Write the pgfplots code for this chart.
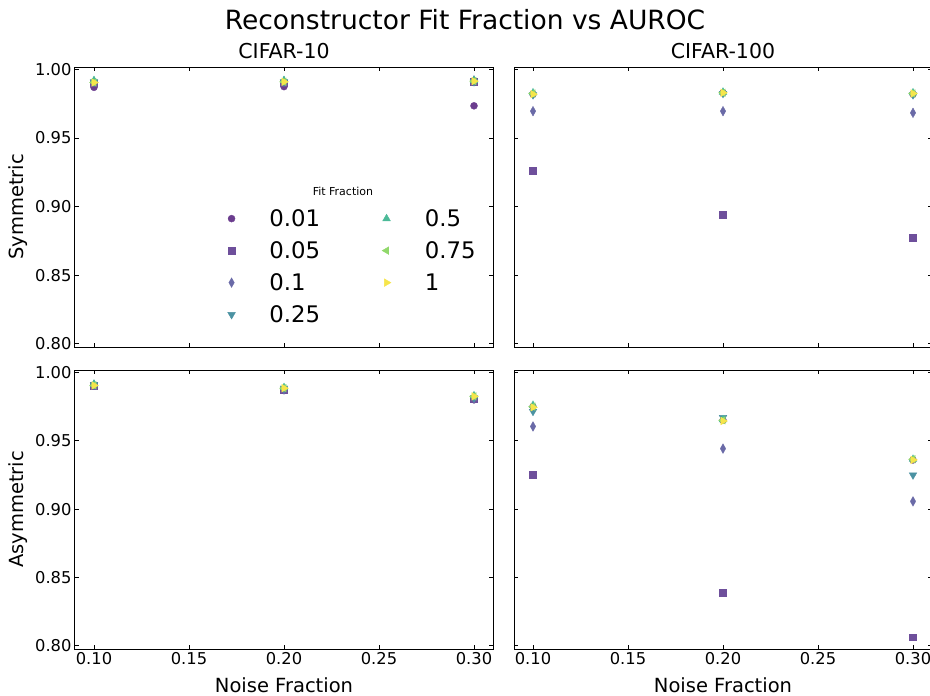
\documentclass[border=0pt]{standalone}
\usepackage{fontspec}
\setmainfont{DejaVu Sans}
\usepackage{pgfplots}
\pgfplotsset{compat=1.18}
\definecolor{c1}{HTML}{6B3D8E}
\definecolor{c2}{HTML}{6E4F9B}
\definecolor{c3}{HTML}{6A6AA7}
\definecolor{c4}{HTML}{4B92A2}
\definecolor{c5}{HTML}{4CBA98}
\definecolor{c6}{HTML}{91D86B}
\definecolor{c7}{HTML}{F6E54B}
\pgfplotsset{
  myax/.style={
    scale only axis, width=418pt, height=280pt,
    xmin=0.09, xmax=0.31, ymin=0.7977, ymax=1.0018,
    xtick={0.1,0.15,0.2,0.25,0.3}, ytick={0.8,0.85,0.9,0.95,1.0},
    tick align=inside, major tick length=4pt,
    every tick/.style={black, line width=0.9pt},
    axis line style={line width=1pt},
    /pgf/number format/fixed, /pgf/number format/fixed zerofill,
    /pgf/number format/precision=2, /pgf/number format/assume math mode=true,
    tick label style={font=\fontsize{16.3}{18}\selectfont},
    label style={font=\fontsize{19.5}{22}\selectfont},
    title style={font=\fontsize{20.5}{23}\selectfont, at={(axis description cs:0.5,1.037)}, anchor=center},
    ylabel style={at={(axis description cs:-0.137,0.5)}, anchor=center},
    xlabel style={at={(axis description cs:0.5,-0.129)}, anchor=center},
  },
  s1/.style={only marks, mark=*, mark size=3.5pt, color=c1, mark options={solid, fill=c1, draw=c1}},
  s2/.style={only marks, mark=square*, mark size=3.4pt, color=c2, mark options={solid, fill=c2, draw=c2}},
  s3/.style={only marks, mark=diamond*, mark size=4.8pt, color=c3, mark options={solid, fill=c3, draw=c3, xscale=0.75}},
  s4/.style={only marks, mark=triangle*, mark size=4.4pt, color=c4, mark options={solid, fill=c4, draw=c4, rotate=180}},
  s5/.style={only marks, mark=triangle*, mark size=4.4pt, color=c5, mark options={solid, fill=c5, draw=c5}},
  s6/.style={only marks, mark=triangle*, mark size=4.4pt, color=c6, mark options={solid, fill=c6, draw=c6, rotate=90}},
  s7/.style={only marks, mark=triangle*, mark size=4.4pt, color=c7, mark options={solid, fill=c7, draw=c7, rotate=-90}},
}
\begin{document}
\begin{tikzpicture}
\useasboundingbox (0pt,0pt) rectangle (930pt,-696pt);
\node[font=\fontsize{26.5}{30}\selectfont] at (465pt,-20pt) {Reconstructor Fit Fraction vs AUROC};

% CIFAR-10 symmetric
\begin{axis}[myax, at={(75pt,-67pt)}, anchor=north west, title={CIFAR-10}, xticklabels={}, ylabel={Symmetric},
  legend columns=2, legend cell align=left,
  legend style={draw=none, fill=none, font=\fontsize{22.8}{26}\selectfont, inner sep=0pt,
    at={(axis description cs:0.365,0.486)}, anchor=north west,
    nodes={inner sep=0pt, text height=15pt, text depth=0pt}, row sep=17pt,
    /tikz/every odd column/.append style={column sep=34pt},
    /tikz/every even column/.append style={column sep=62pt}}]
\addplot[s1, forget plot] coordinates {(0.1,0.987) (0.2,0.9875) (0.3,0.9735)};
\addplot[s2, forget plot] coordinates {(0.1,0.990) (0.2,0.990) (0.3,0.991)};
\addplot[s3, forget plot] coordinates {(0.1,0.991) (0.2,0.9915) (0.3,0.992)};
\addplot[s4, forget plot] coordinates {(0.1,0.991) (0.2,0.991) (0.3,0.991)};
\addplot[s5, forget plot] coordinates {(0.1,0.992) (0.2,0.992) (0.3,0.992)};
\addplot[s6, forget plot] coordinates {(0.1,0.9905) (0.2,0.991) (0.3,0.9915)};
\addplot[s7, forget plot] coordinates {(0.1,0.9905) (0.2,0.991) (0.3,0.9915)};
\addlegendimage{s1}\addlegendentry{0.01}
\addlegendimage{s5}\addlegendentry{0.5}
\addlegendimage{s2}\addlegendentry{0.05}
\addlegendimage{s6}\addlegendentry{0.75}
\addlegendimage{s3}\addlegendentry{0.1}
\addlegendimage{s7}\addlegendentry{1}
\addlegendimage{s4}\addlegendentry{0.25}
\node[font=\fontsize{11}{12}\selectfont] at (axis description cs:0.641,0.554) {Fit Fraction};
\end{axis}

% CIFAR-100 symmetric
\begin{axis}[myax, at={(514pt,-67pt)}, anchor=north west, title={CIFAR-100}, xticklabels={}, yticklabels={}]
\addplot[s1] coordinates {(0.1,0.982) (0.2,0.983) (0.3,0.982)};
\addplot[s2] coordinates {(0.1,0.9265) (0.2,0.894) (0.3,0.8776)};
\addplot[s3] coordinates {(0.1,0.9696) (0.2,0.9696) (0.3,0.9684)};
\addplot[s4] coordinates {(0.1,0.9815) (0.2,0.9825) (0.3,0.9815)};
\addplot[s5] coordinates {(0.1,0.983) (0.2,0.9835) (0.3,0.983)};
\addplot[s6] coordinates {(0.1,0.9825) (0.2,0.983) (0.3,0.9825)};
\addplot[s7] coordinates {(0.1,0.982) (0.2,0.983) (0.3,0.9825)};
\end{axis}

% CIFAR-10 asymmetric
\begin{axis}[myax, height=279pt, at={(75pt,-370pt)}, anchor=north west, ylabel={Asymmetric}, xlabel={Noise Fraction}]
\addplot[s1] coordinates {(0.1,0.990) (0.2,0.987) (0.3,0.980)};
\addplot[s2] coordinates {(0.1,0.9905) (0.2,0.987) (0.3,0.9805)};
\addplot[s3] coordinates {(0.1,0.991) (0.2,0.9875) (0.3,0.981)};
\addplot[s4] coordinates {(0.1,0.991) (0.2,0.9885) (0.3,0.9815)};
\addplot[s5] coordinates {(0.1,0.9915) (0.2,0.989) (0.3,0.983)};
\addplot[s6] coordinates {(0.1,0.9905) (0.2,0.9885) (0.3,0.9825)};
\addplot[s7] coordinates {(0.1,0.9905) (0.2,0.9885) (0.3,0.9825)};
\end{axis}

% CIFAR-100 asymmetric
\begin{axis}[myax, height=279pt, at={(514pt,-370pt)}, anchor=north west, yticklabels={}, xlabel={Noise Fraction}]
\addplot[s1] coordinates {(0.1,0.975) (0.2,0.965) (0.3,0.936)};
\addplot[s2] coordinates {(0.1,0.9251) (0.2,0.8386) (0.3,0.8064)};
\addplot[s3] coordinates {(0.1,0.9605) (0.2,0.9443) (0.3,0.9057)};
\addplot[s4] coordinates {(0.1,0.9715) (0.2,0.967) (0.3,0.925)};
\addplot[s5] coordinates {(0.1,0.976) (0.2,0.9655) (0.3,0.9365)};
\addplot[s6] coordinates {(0.1,0.975) (0.2,0.965) (0.3,0.9365)};
\addplot[s7] coordinates {(0.1,0.9745) (0.2,0.9645) (0.3,0.936)};
\end{axis}
\end{tikzpicture}
\end{document}
